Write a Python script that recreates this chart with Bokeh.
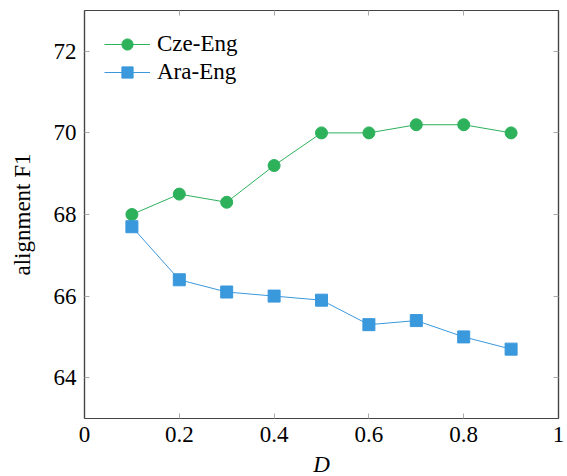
from bokeh.plotting import figure
from bokeh.models import LinearAxis, Range1d, FixedTicker, Legend, LegendItem
from bokeh.embed import file_html
from bokeh.resources import INLINE

d_values = [0.1, 0.2, 0.3, 0.4, 0.5, 0.6, 0.7, 0.8, 0.9]
cze_eng = [68.0, 68.5, 68.3, 69.2, 70.0, 70.0, 70.2, 70.2, 70.0]
ara_eng = [67.7, 66.4, 66.1, 66.0, 65.9, 65.3, 65.4, 65.0, 64.7]
x_ticks = [0, 0.2, 0.4, 0.6, 0.8, 1]
y_ticks = [64, 66, 68, 70, 72]

FONT = "Liberation Serif"
FS = "23px"
GREEN = "#2db15b"
BLUE = "#3a98dc"

p = figure(frame_width=474, frame_height=408, output_backend="svg",
           toolbar_location=None, x_range=Range1d(0, 1), y_range=Range1d(63, 73),
           min_border_left=84, min_border_top=10, min_border_right=8, min_border_bottom=10)
p.xgrid.visible = False
p.ygrid.visible = False
p.outline_line_color = "#444444"
p.outline_line_width = 1.2
p.background_fill_color = "white"
p.border_fill_color = "white"

def style_axis(ax, labels=True):
    ax.major_tick_in = 5
    ax.major_tick_out = 0
    ax.minor_tick_in = 0
    ax.minor_tick_out = 0
    ax.major_tick_line_color = "#aaaaaa"
    ax.axis_line_color = "#444444"
    ax.axis_line_width = 1.2
    ax.major_label_text_font = FONT
    ax.major_label_text_font_size = FS
    ax.major_label_text_color = "black"
    ax.axis_label_text_font = FONT
    ax.axis_label_text_font_size = FS
    ax.axis_label_text_color = "black"
    if not labels:
        ax.major_label_overrides = {t: "" for t in ax.ticker.ticks}
        ax.major_label_standoff = 0

p.xaxis.ticker = FixedTicker(ticks=x_ticks)
p.yaxis.ticker = FixedTicker(ticks=y_ticks)
p.xaxis.major_label_overrides = {0: "0", 1: "1"}
style_axis(p.xaxis[0])
style_axis(p.yaxis[0])
p.xaxis.axis_label = "D"
p.xaxis.axis_label_text_font_style = "italic"
p.xaxis.axis_label_standoff = 7
p.xaxis.major_label_standoff = 8
p.yaxis.axis_label = "alignment F1"
p.yaxis.axis_label_text_font_style = "normal"
p.yaxis.axis_label_standoff = 16
p.yaxis.major_label_standoff = 8

top = LinearAxis(ticker=FixedTicker(ticks=x_ticks))
style_axis(top, labels=False)
right = LinearAxis(ticker=FixedTicker(ticks=y_ticks))
style_axis(right, labels=False)
p.add_layout(top, "above")
p.add_layout(right, "right")

l1 = p.line(d_values, cze_eng, color=GREEN, line_width=1)
c1 = p.scatter(d_values, cze_eng, marker="circle", size=12, fill_color=GREEN, line_color=GREEN)
l2 = p.line(d_values, ara_eng, color=BLUE, line_width=1)
c2 = p.scatter(d_values, ara_eng, marker="square", size=12, fill_color=BLUE, line_color=BLUE)

legend = Legend(items=[LegendItem(label="Cze-Eng", renderers=[l1, c1]),
                       LegendItem(label="Ara-Eng", renderers=[l2, c2])],
                location="top_left")
legend.border_line_color = None
legend.background_fill_alpha = 0
legend.label_text_font = FONT
legend.label_text_font_size = FS
legend.label_text_color = "black"
legend.glyph_width = 46
legend.glyph_height = 28
legend.label_height = 28
legend.label_standoff = 7
legend.spacing = 0
legend.margin = 20
legend.padding = 8
p.add_layout(legend, "center")

open("out.html", "w").write(file_html(p, INLINE))
